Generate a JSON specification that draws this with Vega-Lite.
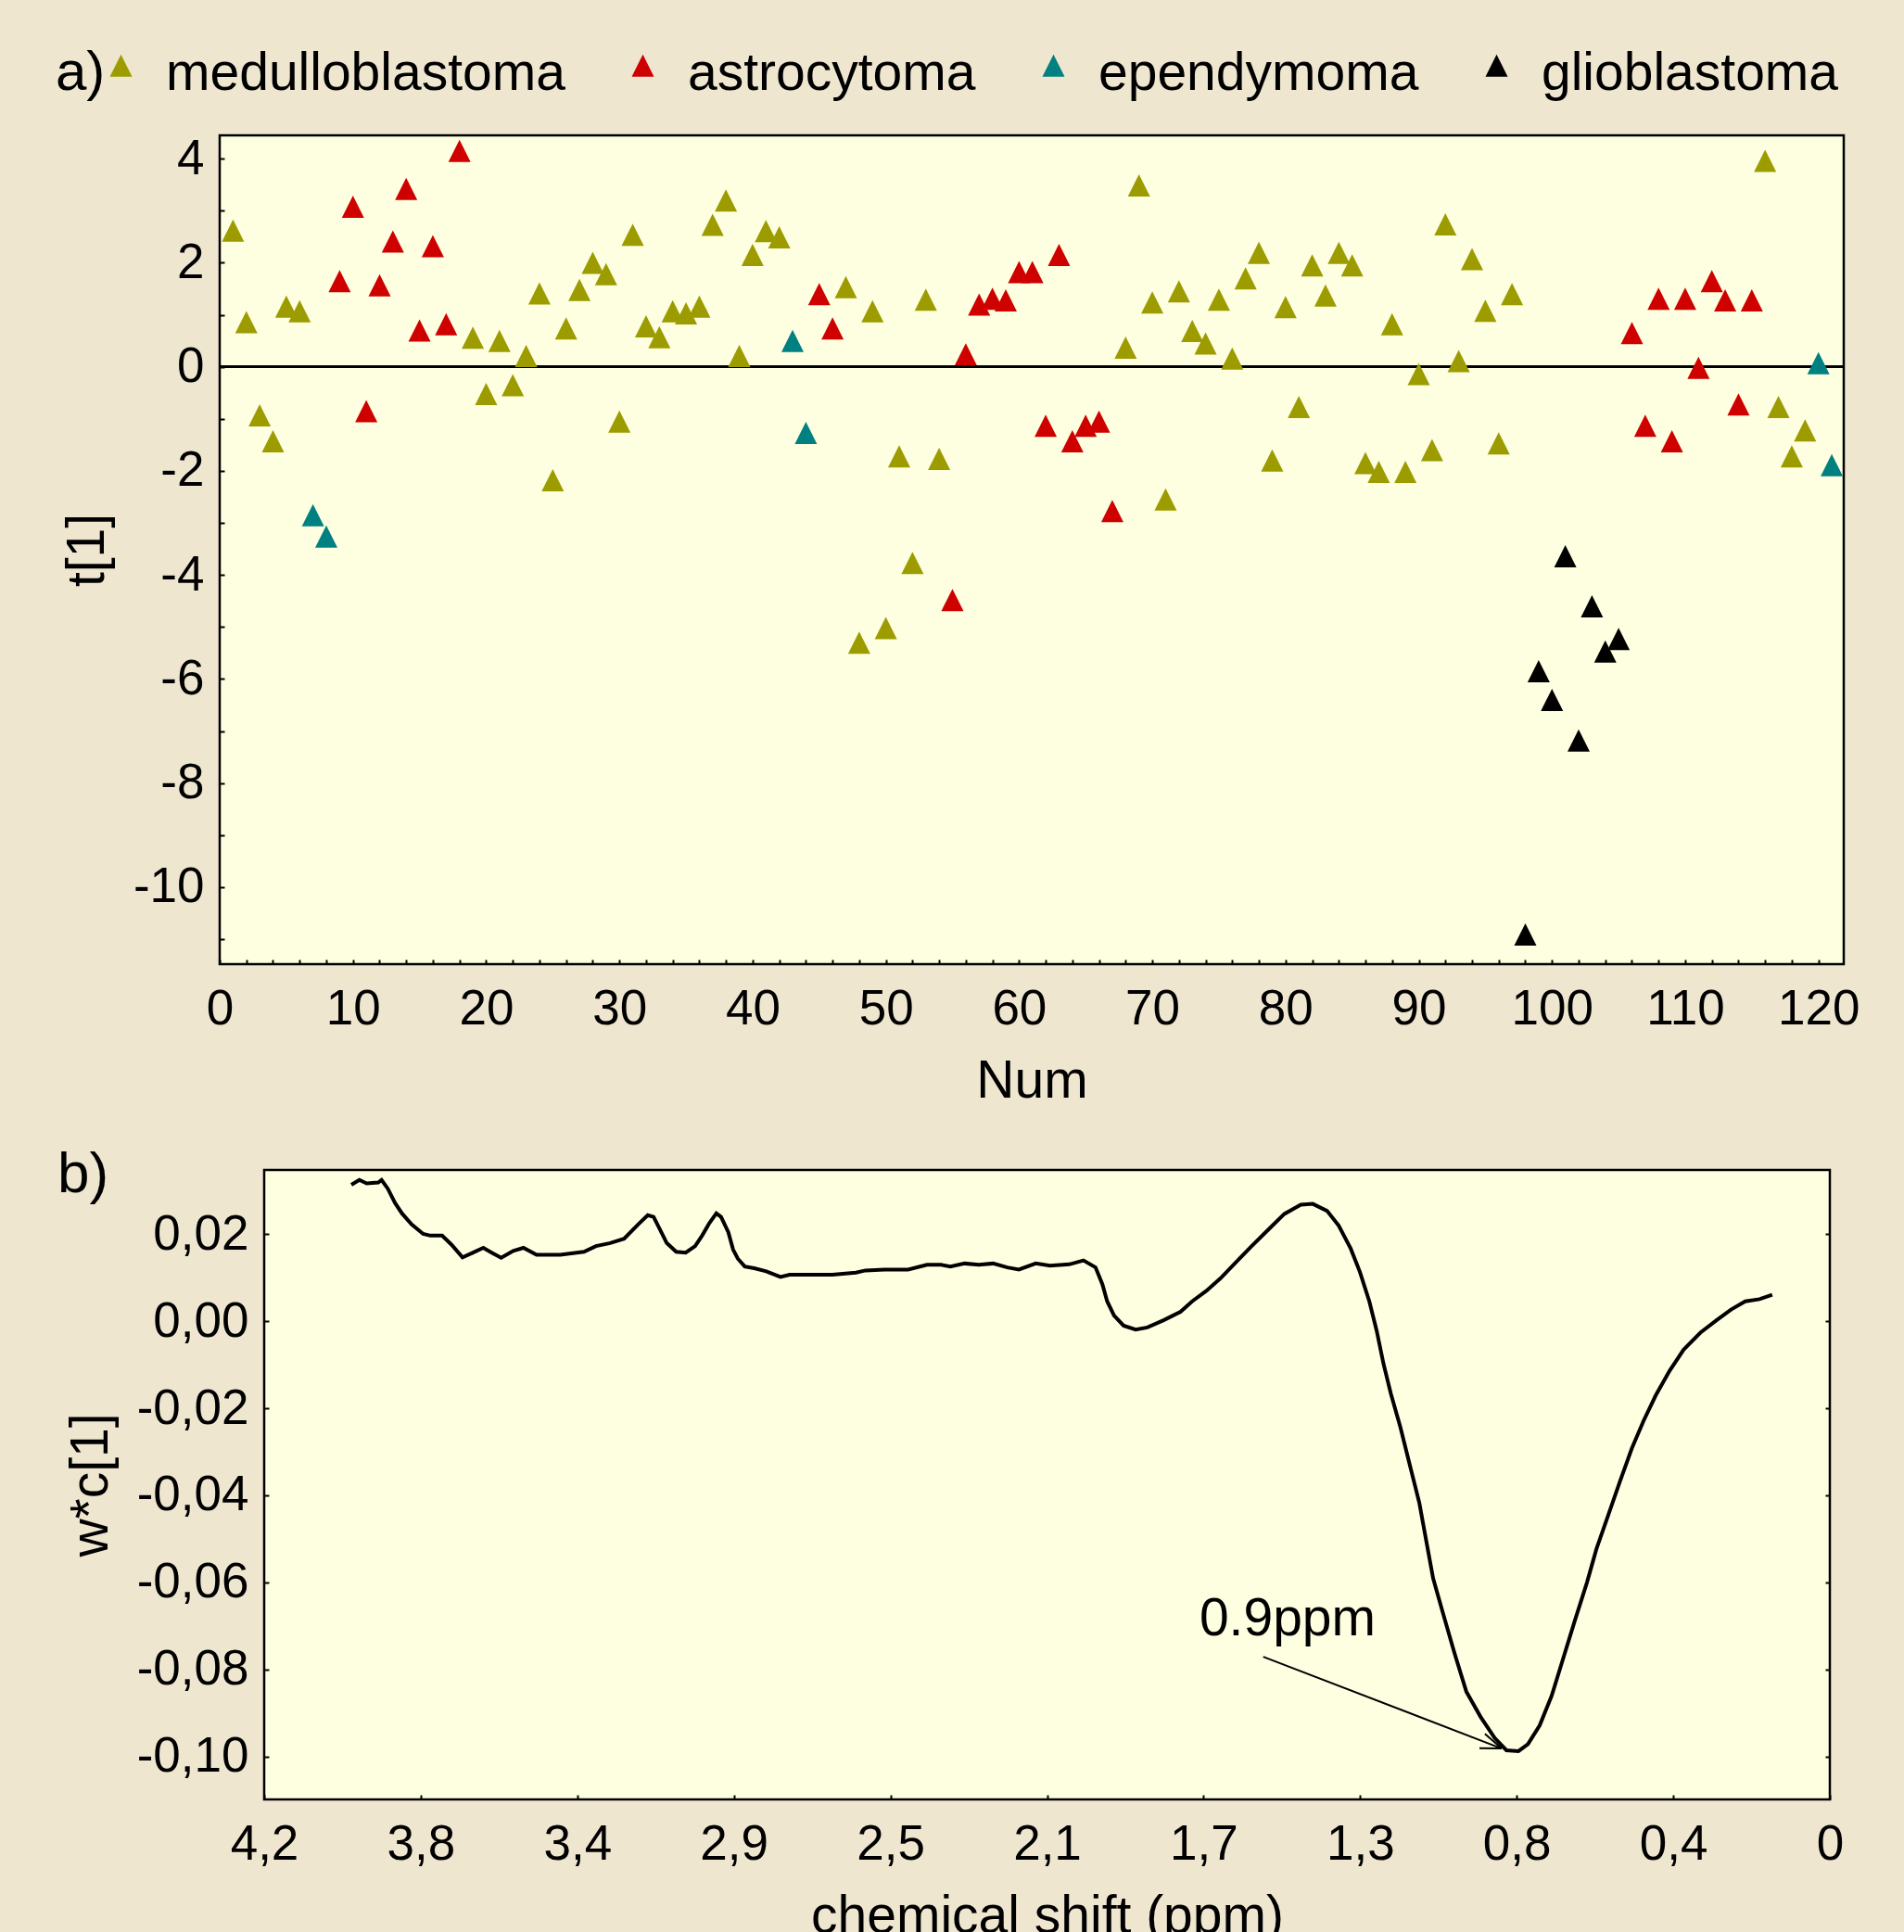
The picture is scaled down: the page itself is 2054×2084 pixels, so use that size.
{
  "$schema": "https://vega.github.io/schema/vega-lite/v6.json",
  "background": "#efe6d0",
  "padding": {"left": 4, "top": 51, "right": 50, "bottom": 0},
  "spacing": 38,
  "config": {
    "font": "Liberation Sans",
    "view": {"stroke": "#000000", "strokeWidth": 2.5, "fill": "#fefee0"},
    "axis": {
      "labelFont": "Liberation Sans", "titleFont": "Liberation Sans",
      "labelFontSize": 53, "titleFontSize": 57, "titleFontWeight": "normal",
      "labelColor": "#000000", "titleColor": "#000000", "tickColor": "#000000",
      "tickWidth": 2, "tickSize": -5, "domain": false, "grid": false,
      "labelFlush": false, "labelOverlap": false, "labelBound": false,
      "labelPadding": 27, "titlePadding": 20
    },
    "axisY": {"labelPadding": 22},
    "axisX": {"titlePadding": 23}
  },
  "vconcat": [
    {
      "spacing": 59,
      "hconcat": [
        {"width": 1, "height": 1, "data": {"values": []}, "mark": "point", "view": {"stroke": null, "fill": null}},
        {
          "width": 1752,
          "height": 894,
          "data": {"values": [
            {"num": 1, "t": 2.62, "c": "medulloblastoma"},
            {"num": 2, "t": 0.86, "c": "medulloblastoma"},
            {"num": 3, "t": -0.93, "c": "medulloblastoma"},
            {"num": 4, "t": -1.43, "c": "medulloblastoma"},
            {"num": 5, "t": 1.16, "c": "medulloblastoma"},
            {"num": 6, "t": 1.07, "c": "medulloblastoma"},
            {"num": 7, "t": -2.85, "c": "ependymoma"},
            {"num": 8, "t": -3.26, "c": "ependymoma"},
            {"num": 9, "t": 1.65, "c": "astrocytoma"},
            {"num": 10, "t": 3.08, "c": "astrocytoma"},
            {"num": 11, "t": -0.85, "c": "astrocytoma"},
            {"num": 12, "t": 1.57, "c": "astrocytoma"},
            {"num": 13, "t": 2.41, "c": "astrocytoma"},
            {"num": 14, "t": 3.42, "c": "astrocytoma"},
            {"num": 15, "t": 0.70, "c": "astrocytoma"},
            {"num": 16, "t": 2.32, "c": "astrocytoma"},
            {"num": 17, "t": 0.82, "c": "astrocytoma"},
            {"num": 18, "t": 4.15, "c": "astrocytoma"},
            {"num": 19, "t": 0.56, "c": "medulloblastoma"},
            {"num": 20, "t": -0.52, "c": "medulloblastoma"},
            {"num": 21, "t": 0.50, "c": "medulloblastoma"},
            {"num": 22, "t": -0.35, "c": "medulloblastoma"},
            {"num": 23, "t": 0.21, "c": "medulloblastoma"},
            {"num": 24, "t": 1.41, "c": "medulloblastoma"},
            {"num": 25, "t": -2.18, "c": "medulloblastoma"},
            {"num": 26, "t": 0.74, "c": "medulloblastoma"},
            {"num": 27, "t": 1.48, "c": "medulloblastoma"},
            {"num": 28, "t": 2.00, "c": "medulloblastoma"},
            {"num": 29, "t": 1.78, "c": "medulloblastoma"},
            {"num": 30, "t": -1.05, "c": "medulloblastoma"},
            {"num": 31, "t": 2.54, "c": "medulloblastoma"},
            {"num": 32, "t": 0.78, "c": "medulloblastoma"},
            {"num": 33, "t": 0.57, "c": "medulloblastoma"},
            {"num": 34, "t": 1.07, "c": "medulloblastoma"},
            {"num": 35, "t": 1.03, "c": "medulloblastoma"},
            {"num": 36, "t": 1.16, "c": "medulloblastoma"},
            {"num": 37, "t": 2.73, "c": "medulloblastoma"},
            {"num": 38, "t": 3.20, "c": "medulloblastoma"},
            {"num": 39, "t": 0.21, "c": "medulloblastoma"},
            {"num": 40, "t": 2.15, "c": "medulloblastoma"},
            {"num": 41, "t": 2.61, "c": "medulloblastoma"},
            {"num": 42, "t": 2.49, "c": "medulloblastoma"},
            {"num": 43, "t": 0.50, "c": "ependymoma"},
            {"num": 44, "t": -1.27, "c": "ependymoma"},
            {"num": 45, "t": 1.40, "c": "astrocytoma"},
            {"num": 46, "t": 0.74, "c": "astrocytoma"},
            {"num": 47, "t": 1.53, "c": "medulloblastoma"},
            {"num": 48, "t": -5.30, "c": "medulloblastoma"},
            {"num": 49, "t": 1.07, "c": "medulloblastoma"},
            {"num": 50, "t": -5.02, "c": "medulloblastoma"},
            {"num": 51, "t": -1.72, "c": "medulloblastoma"},
            {"num": 52, "t": -3.77, "c": "medulloblastoma"},
            {"num": 53, "t": 1.29, "c": "medulloblastoma"},
            {"num": 54, "t": -1.77, "c": "medulloblastoma"},
            {"num": 55, "t": -4.48, "c": "astrocytoma"},
            {"num": 56, "t": 0.24, "c": "astrocytoma"},
            {"num": 57, "t": 1.20, "c": "astrocytoma"},
            {"num": 58, "t": 1.31, "c": "astrocytoma"},
            {"num": 59, "t": 1.28, "c": "astrocytoma"},
            {"num": 60, "t": 1.82, "c": "astrocytoma"},
            {"num": 61, "t": 1.82, "c": "astrocytoma"},
            {"num": 62, "t": -1.13, "c": "astrocytoma"},
            {"num": 63, "t": 2.15, "c": "astrocytoma"},
            {"num": 64, "t": -1.43, "c": "astrocytoma"},
            {"num": 65, "t": -1.13, "c": "astrocytoma"},
            {"num": 66, "t": -1.05, "c": "astrocytoma"},
            {"num": 67, "t": -2.77, "c": "astrocytoma"},
            {"num": 68, "t": 0.37, "c": "medulloblastoma"},
            {"num": 69, "t": 3.49, "c": "medulloblastoma"},
            {"num": 70, "t": 1.24, "c": "medulloblastoma"},
            {"num": 71, "t": -2.55, "c": "medulloblastoma"},
            {"num": 72, "t": 1.45, "c": "medulloblastoma"},
            {"num": 73, "t": 0.69, "c": "medulloblastoma"},
            {"num": 74, "t": 0.45, "c": "medulloblastoma"},
            {"num": 75, "t": 1.29, "c": "medulloblastoma"},
            {"num": 76, "t": 0.16, "c": "medulloblastoma"},
            {"num": 77, "t": 1.70, "c": "medulloblastoma"},
            {"num": 78, "t": 2.19, "c": "medulloblastoma"},
            {"num": 79, "t": -1.80, "c": "medulloblastoma"},
            {"num": 80, "t": 1.15, "c": "medulloblastoma"},
            {"num": 81, "t": -0.77, "c": "medulloblastoma"},
            {"num": 82, "t": 1.95, "c": "medulloblastoma"},
            {"num": 83, "t": 1.37, "c": "medulloblastoma"},
            {"num": 84, "t": 2.19, "c": "medulloblastoma"},
            {"num": 85, "t": 1.95, "c": "medulloblastoma"},
            {"num": 86, "t": -1.85, "c": "medulloblastoma"},
            {"num": 87, "t": -2.02, "c": "medulloblastoma"},
            {"num": 88, "t": 0.82, "c": "medulloblastoma"},
            {"num": 89, "t": -2.02, "c": "medulloblastoma"},
            {"num": 90, "t": -0.14, "c": "medulloblastoma"},
            {"num": 91, "t": -1.60, "c": "medulloblastoma"},
            {"num": 92, "t": 2.74, "c": "medulloblastoma"},
            {"num": 93, "t": 0.11, "c": "medulloblastoma"},
            {"num": 94, "t": 2.07, "c": "medulloblastoma"},
            {"num": 95, "t": 1.08, "c": "medulloblastoma"},
            {"num": 96, "t": -1.47, "c": "medulloblastoma"},
            {"num": 97, "t": 1.40, "c": "medulloblastoma"},
            {"num": 98, "t": -10.91, "c": "glioblastoma"},
            {"num": 99, "t": -5.85, "c": "glioblastoma"},
            {"num": 100, "t": -6.40, "c": "glioblastoma"},
            {"num": 101, "t": -3.64, "c": "glioblastoma"},
            {"num": 102, "t": -7.18, "c": "glioblastoma"},
            {"num": 103, "t": -4.60, "c": "glioblastoma"},
            {"num": 104, "t": -5.47, "c": "glioblastoma"},
            {"num": 105, "t": -5.23, "c": "glioblastoma"},
            {"num": 106, "t": 0.65, "c": "astrocytoma"},
            {"num": 107, "t": -1.13, "c": "astrocytoma"},
            {"num": 108, "t": 1.31, "c": "astrocytoma"},
            {"num": 109, "t": -1.43, "c": "astrocytoma"},
            {"num": 110, "t": 1.31, "c": "astrocytoma"},
            {"num": 111, "t": -0.02, "c": "astrocytoma"},
            {"num": 112, "t": 1.65, "c": "astrocytoma"},
            {"num": 113, "t": 1.28, "c": "astrocytoma"},
            {"num": 114, "t": -0.72, "c": "astrocytoma"},
            {"num": 115, "t": 1.28, "c": "astrocytoma"},
            {"num": 116, "t": 3.96, "c": "medulloblastoma"},
            {"num": 117, "t": -0.77, "c": "medulloblastoma"},
            {"num": 118, "t": -1.72, "c": "medulloblastoma"},
            {"num": 119, "t": -1.22, "c": "medulloblastoma"},
            {"num": 120, "t": 0.07, "c": "ependymoma"},
            {"num": 121, "t": -1.89, "c": "ependymoma"}
          ]},
          "layer": [
            {
              "mark": {"type": "rule", "color": "#000000", "strokeWidth": 2},
              "encoding": {"y": {"datum": 0, "type": "quantitative"}}
            },
            {
              "mark": {"type": "point", "filled": true, "opacity": 1, "size": 576, "shape": "M0,-1L1,1L-1,1Z", "strokeWidth": 0},
              "encoding": {
                "x": {
                  "field": "num", "type": "quantitative",
                  "scale": {"domain": [0, 121.9], "nice": false, "zero": false},
                  "axis": {
                    "title": "Num",
                    "values": [0,2,4,6,8,10,12,14,16,18,20,22,24,26,28,30,32,34,36,38,40,42,44,46,48,50,52,54,56,58,60,62,64,66,68,70,72,74,76,78,80,82,84,86,88,90,92,94,96,98,100,102,104,106,108,110,112,114,116,118,120],
                    "labelExpr": "datum.value % 10 == 0 ? '' + datum.value : ''"
                  }
                },
                "y": {
                  "field": "t", "type": "quantitative",
                  "scale": {"domain": [-11.48, 4.45], "nice": false, "zero": false},
                  "axis": {
                    "title": "t[1]",
                    "values": [-11,-10,-9,-8,-7,-6,-5,-4,-3,-2,-1,0,1,2,3,4],
                    "labelExpr": "datum.value % 2 == 0 ? '' + datum.value : ''"
                  }
                },
                "color": {
                  "field": "c", "type": "nominal",
                  "scale": {
                    "domain": ["medulloblastoma", "astrocytoma", "ependymoma", "glioblastoma"],
                    "range": ["#9c9c00", "#cf0000", "#008080", "#000000"]
                  },
                  "legend": {
                    "title": "a)",
                    "orient": "none", "legendX": 56, "legendY": -95,
                    "direction": "horizontal", "columns": 4,
                    "titleOrient": "left", "titleAnchor": "middle", "titleBaseline": "middle",
                    "titleFontSize": 60, "titleFontWeight": "normal", "titleFont": "Liberation Sans", "titleColor": "#000000", "titlePadding": -12,
                    "labelFontSize": 57, "labelFont": "Liberation Sans", "labelColor": "#000000", "labelLimit": 1000, "labelOffset": 20,
                    "symbolType": "M0,-1.75L1,0.25L-1,0.25Z", "symbolSize": 576, "symbolStrokeWidth": 0, "symbolOpacity": 1,
                    "columnPadding": 55, "padding": 0, "offset": 0
                  }
                }
              }
            }
          ]
        }
      ]
    },
    {
      "spacing": 55,
      "hconcat": [
        {"width": 1, "height": 1, "data": {"values": []}, "mark": "point", "view": {"stroke": null, "fill": null}},
        {
          "width": 1689,
          "height": 679,
          "title": {"text": "b)", "anchor": "start", "frame": "group", "dx": -223, "dy": 24, "offset": -62, "baseline": "alphabetic", "align": "left", "fontSize": 62, "fontWeight": "normal", "font": "Liberation Sans", "color": "#000000"},
          "layer": [
            {
              "mark": {"type": "rule", "color": "#000000", "strokeWidth": 2, "strokeDash": [3, 3]},
              "encoding": {
                "y": {
                  "datum": 0, "type": "quantitative",
                  "axis": {"orient": "right", "labels": false, "title": null, "values": [-0.1, -0.08, -0.06, -0.04, -0.02, 0, 0.02]}
                }
              }
            },
            {
              "data": {"values": [
                {"ppm": 4.055, "w": 0.0314}, {"ppm": 4.033, "w": 0.0325}, {"ppm": 4.013, "w": 0.0317}, {"ppm": 3.981, "w": 0.0319},
                {"ppm": 3.972, "w": 0.0325}, {"ppm": 3.955, "w": 0.0305}, {"ppm": 3.935, "w": 0.0272}, {"ppm": 3.916, "w": 0.0248},
                {"ppm": 3.890, "w": 0.0223}, {"ppm": 3.858, "w": 0.0201}, {"ppm": 3.838, "w": 0.0197}, {"ppm": 3.806, "w": 0.0197},
                {"ppm": 3.780, "w": 0.0176}, {"ppm": 3.750, "w": 0.0147}, {"ppm": 3.721, "w": 0.0158}, {"ppm": 3.693, "w": 0.0169},
                {"ppm": 3.670, "w": 0.0158}, {"ppm": 3.644, "w": 0.0146}, {"ppm": 3.611, "w": 0.0162}, {"ppm": 3.583, "w": 0.0169},
                {"ppm": 3.547, "w": 0.0153}, {"ppm": 3.482, "w": 0.0153}, {"ppm": 3.417, "w": 0.0160}, {"ppm": 3.384, "w": 0.0173},
                {"ppm": 3.345, "w": 0.0180}, {"ppm": 3.307, "w": 0.0190}, {"ppm": 3.268, "w": 0.0223}, {"ppm": 3.242, "w": 0.0244},
                {"ppm": 3.226, "w": 0.0240}, {"ppm": 3.209, "w": 0.0212}, {"ppm": 3.190, "w": 0.0180}, {"ppm": 3.164, "w": 0.0160},
                {"ppm": 3.138, "w": 0.0158}, {"ppm": 3.112, "w": 0.0173}, {"ppm": 3.093, "w": 0.0197}, {"ppm": 3.073, "w": 0.0226},
                {"ppm": 3.054, "w": 0.0248}, {"ppm": 3.041, "w": 0.0240}, {"ppm": 3.021, "w": 0.0205}, {"ppm": 3.008, "w": 0.0165},
                {"ppm": 2.995, "w": 0.0144}, {"ppm": 2.976, "w": 0.0126}, {"ppm": 2.950, "w": 0.0122}, {"ppm": 2.917, "w": 0.0115},
                {"ppm": 2.878, "w": 0.0102}, {"ppm": 2.853, "w": 0.0107}, {"ppm": 2.736, "w": 0.0107}, {"ppm": 2.671, "w": 0.0112},
                {"ppm": 2.645, "w": 0.0117}, {"ppm": 2.593, "w": 0.0119}, {"ppm": 2.528, "w": 0.0119}, {"ppm": 2.476, "w": 0.0130},
                {"ppm": 2.438, "w": 0.0130}, {"ppm": 2.412, "w": 0.0126}, {"ppm": 2.373, "w": 0.0133}, {"ppm": 2.334, "w": 0.0130},
                {"ppm": 2.295, "w": 0.0133}, {"ppm": 2.256, "w": 0.0124}, {"ppm": 2.224, "w": 0.0119}, {"ppm": 2.178, "w": 0.0133},
                {"ppm": 2.139, "w": 0.0128}, {"ppm": 2.086, "w": 0.0131}, {"ppm": 2.047, "w": 0.0140}, {"ppm": 2.014, "w": 0.0124},
                {"ppm": 1.995, "w": 0.0085}, {"ppm": 1.982, "w": 0.0046}, {"ppm": 1.963, "w": 0.0013}, {"ppm": 1.937, "w": -0.0010},
                {"ppm": 1.904, "w": -0.0019}, {"ppm": 1.872, "w": -0.0014}, {"ppm": 1.826, "w": 0.0003}, {"ppm": 1.781, "w": 0.0022},
                {"ppm": 1.749, "w": 0.0046}, {"ppm": 1.710, "w": 0.0070}, {"ppm": 1.671, "w": 0.0099}, {"ppm": 1.632, "w": 0.0133},
                {"ppm": 1.587, "w": 0.0172}, {"ppm": 1.541, "w": 0.0210}, {"ppm": 1.496, "w": 0.0247}, {"ppm": 1.451, "w": 0.0268},
                {"ppm": 1.418, "w": 0.0270}, {"ppm": 1.379, "w": 0.0254}, {"ppm": 1.347, "w": 0.0220}, {"ppm": 1.314, "w": 0.0167},
                {"ppm": 1.289, "w": 0.0114}, {"ppm": 1.263, "w": 0.0046}, {"ppm": 1.243, "w": -0.0021}, {"ppm": 1.224, "w": -0.0098},
                {"ppm": 1.204, "w": -0.0166}, {"ppm": 1.178, "w": -0.0243}, {"ppm": 1.152, "w": -0.0330}, {"ppm": 1.126, "w": -0.0417},
                {"ppm": 1.107, "w": -0.0504}, {"ppm": 1.088, "w": -0.0591}, {"ppm": 1.062, "w": -0.0668}, {"ppm": 1.029, "w": -0.0764},
                {"ppm": 0.997, "w": -0.0851}, {"ppm": 0.958, "w": -0.0909}, {"ppm": 0.919, "w": -0.0958}, {"ppm": 0.887, "w": -0.0986},
                {"ppm": 0.854, "w": -0.0988}, {"ppm": 0.828, "w": -0.0972}, {"ppm": 0.796, "w": -0.0929}, {"ppm": 0.763, "w": -0.0861},
                {"ppm": 0.731, "w": -0.0774}, {"ppm": 0.699, "w": -0.0687}, {"ppm": 0.666, "w": -0.0600}, {"ppm": 0.640, "w": -0.0523},
                {"ppm": 0.608, "w": -0.0446}, {"ppm": 0.576, "w": -0.0369}, {"ppm": 0.543, "w": -0.0292}, {"ppm": 0.511, "w": -0.0229},
                {"ppm": 0.478, "w": -0.0171}, {"ppm": 0.439, "w": -0.0113}, {"ppm": 0.401, "w": -0.0065}, {"ppm": 0.355, "w": -0.0026},
                {"ppm": 0.310, "w": 0.0003}, {"ppm": 0.271, "w": 0.0027}, {"ppm": 0.232, "w": 0.0046}, {"ppm": 0.193, "w": 0.0051},
                {"ppm": 0.158, "w": 0.0061}
              ]},
              "mark": {"type": "line", "color": "#000000", "strokeWidth": 4},
              "encoding": {
                "x": {
                  "field": "ppm", "type": "quantitative",
                  "scale": {"domain": [0, 4.294], "reverse": true, "nice": false, "zero": false},
                  "axis": {
                    "title": "chemical shift (ppm)",
                    "values": [0, 0.4294, 0.8588, 1.2882, 1.7176, 2.147, 2.5764, 3.0058, 3.4352, 3.8646, 4.294],
                    "labelExpr": "datum.value < 0.01 ? '0' : replace(format(datum.value * 0.978, '.1f'), '.', ',')"
                  }
                },
                "y": {
                  "field": "w", "type": "quantitative",
                  "scale": {"domain": [-0.1099, 0.0348], "nice": false, "zero": false},
                  "axis": {
                    "title": "w*c[1]", "orient": "left",
                    "values": [-0.1, -0.08, -0.06, -0.04, -0.02, 0, 0.02],
                    "labelExpr": "(datum.value < -0.0001 ? '-' : '') + replace(format(abs(datum.value), '.2f'), '.', ',')"
                  }
                }
              }
            },
            {
              "data": {"values": [
                {"ppm": 1.554, "w": -0.0771, "ppm2": 0.900, "w2": -0.0982},
                {"ppm": 0.946, "w": -0.0948, "ppm2": 0.900, "w2": -0.0982},
                {"ppm": 0.961, "w": -0.0981, "ppm2": 0.900, "w2": -0.0982}
              ]},
              "mark": {"type": "rule", "color": "#000000", "strokeWidth": 2},
              "encoding": {
                "x": {"field": "ppm", "type": "quantitative"},
                "y": {"field": "w", "type": "quantitative", "axis": null},
                "x2": {"field": "ppm2"},
                "y2": {"field": "w2"}
              }
            },
            {
              "data": {"values": [{"ppm": 1.729, "w": -0.0721, "label": "0.9ppm"}]},
              "mark": {"type": "text", "align": "left", "baseline": "alphabetic", "fontSize": 57, "font": "Liberation Sans", "color": "#000000"},
              "encoding": {
                "x": {"field": "ppm", "type": "quantitative"},
                "y": {"field": "w", "type": "quantitative", "axis": null},
                "text": {"field": "label"}
              }
            }
          ],
          "resolve": {"axis": {"y": "independent"}}
        }
      ]
    }
  ]
}
